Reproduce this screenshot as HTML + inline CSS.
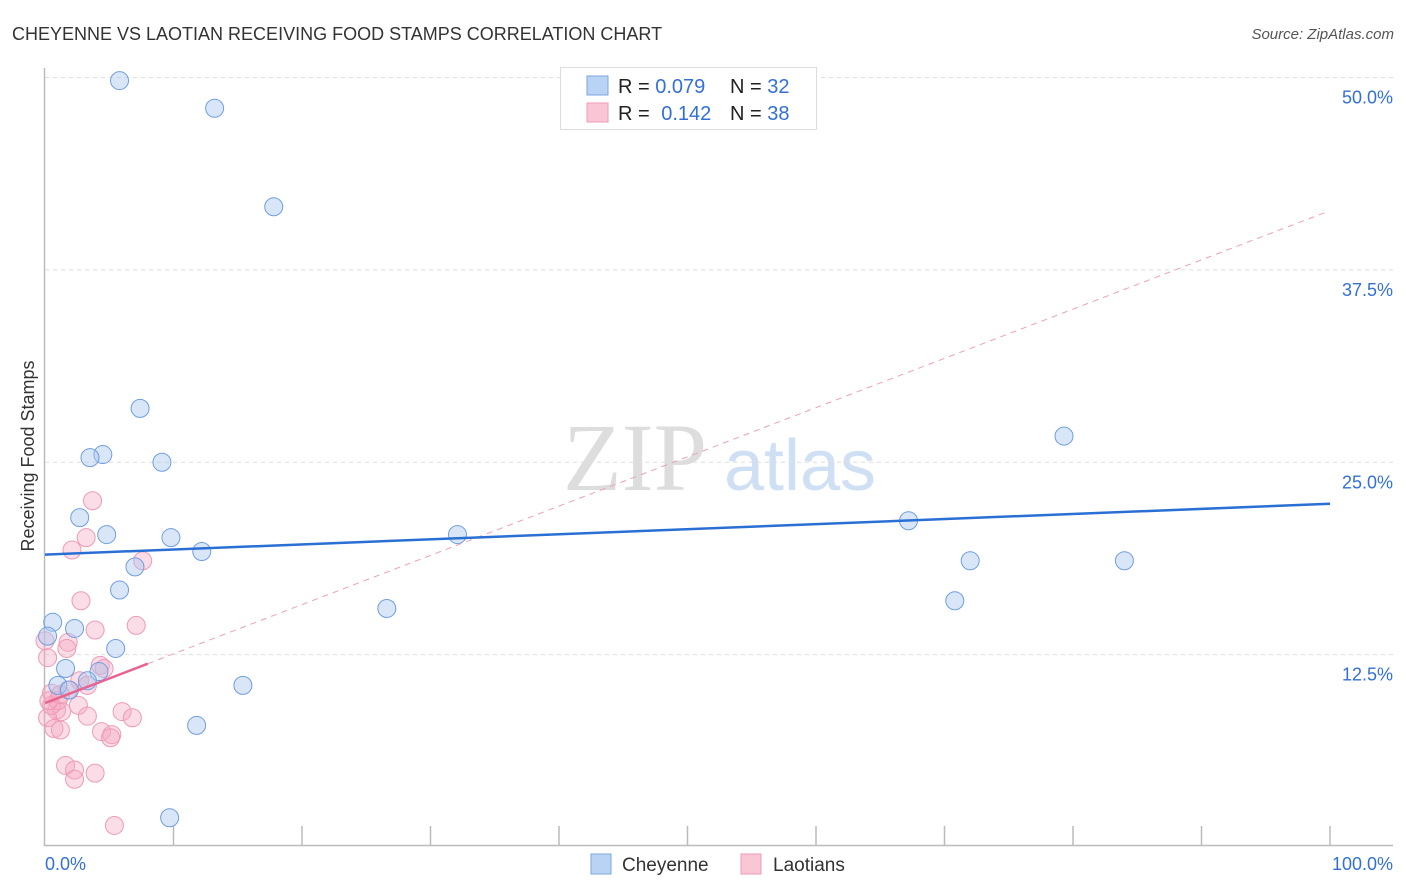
<!DOCTYPE html>
<html><head><meta charset="utf-8">
<style>
body{margin:0;background:#fff;font-family:"Liberation Sans",sans-serif;}
svg{display:block}
</style></head>
<body>
<svg id="chart" width="1406" height="892">
<text x="12" y="40" font-size="18" fill="#333">CHEYENNE VS LAOTIAN RECEIVING FOOD STAMPS CORRELATION CHART</text>
<text x="1394" y="39" font-size="15" fill="#555" font-style="italic" text-anchor="end">Source: ZipAtlas.com</text>
<text x="34" y="456" font-size="18" fill="#333" text-anchor="middle" transform="rotate(-90 34 456)">Receiving Food Stamps</text>
<g>
<text x="635" y="490" font-size="96" fill="#ddd" font-family="Liberation Serif,serif" text-anchor="middle">ZIP</text>
<text x="800" y="490" font-size="72" fill="#cfe0f5" text-anchor="middle">atlas</text>
</g>
<g id="grid"></g><g id="axes"></g><g id="marks"></g>
<g>
<rect x="560.5" y="67.5" width="256" height="62" fill="#fff" stroke="#ddd"/>
<rect x="587" y="76" width="21" height="19" fill="#b9d3f5" stroke="#7ea6e0"/>
<rect x="587" y="103" width="21" height="19" fill="#f9c6d6" stroke="#ee9ab5"/>
<text x="618" y="93" font-size="20" fill="#222">R = <tspan fill="#3370d6">0.079</tspan></text>
<text x="730" y="93" font-size="20" fill="#222">N = <tspan fill="#3370d6">32</tspan></text>
<text x="618" y="120" font-size="20" fill="#222">R = <tspan fill="#3370d6" dx="6">0.142</tspan></text>
<text x="730" y="120" font-size="20" fill="#222">N = <tspan fill="#3370d6">38</tspan></text>
</g>
<g>
<rect x="591" y="854" width="20" height="20" fill="#b9d3f5" stroke="#7ea6e0"/>
<text x="622" y="871" font-size="19" fill="#333">Cheyenne</text>
<rect x="741" y="854" width="20" height="20" fill="#f9c6d6" stroke="#ee9ab5"/>
<text x="773" y="871" font-size="19" fill="#333">Laotians</text>
</g>
</svg>
<script>
const yTicks=[12.5,25,37.5,50];
const yTickLabels=["12.5%","25.0%","37.5%","50.0%"];
const xTickCount=10;
const cheyenneX=[5.8,13.2,17.8,7.4,79.3,4.5,3.5,9.1,2.7,4.8,9.8,32.1,67.2,12.2,72.0,84.0,7.0,5.8,26.6,70.8,0.6,2.3,0.2,5.5,1.6,4.2,3.3,1.0,1.9,15.4,11.8,9.7];
const cheyenneY=[49.8,48.0,41.6,28.5,26.7,25.5,25.3,25.0,21.4,20.3,20.1,20.3,21.2,19.2,18.6,18.6,18.2,16.7,15.5,16.0,14.6,14.2,13.7,12.9,11.6,11.4,10.8,10.5,10.2,10.5,7.9,1.9];
const laoX=[3.7,2.1,3.2,7.6,2.8,3.9,7.1,1.8,1.7,0.2,4.3,4.6,2.7,3.3,1.8,0.5,2.6,0.9,1.3,0.2,3.3,6.0,6.8,0.7,1.2,4.4,5.2,5.1,1.6,2.3,3.9,2.3,5.4,0.5,1.0,0.3,1.2,0];
const laoY=[22.5,19.3,20.1,18.6,16.0,14.1,14.4,13.3,12.9,12.3,11.8,11.6,10.8,10.5,10.2,10.0,9.2,8.9,8.8,8.4,8.5,8.8,8.4,7.7,7.6,7.5,7.3,7.1,5.3,5.0,4.8,4.4,1.4,9.2,9.5,9.5,9.9,13.4];
const cheyenneTrend=[19.0,22.3];
const laoTrend=[9.35,0.32];

const X0=45,X1=1330,YB=847,YT=77.5;
const sx=v=>X0+(X1-X0)*v/100;
const sy=v=>YB-(YB-YT)*v/50;
const NS="http://www.w3.org/2000/svg";
function mk(tag,attrs,parent){const e=document.createElementNS(NS,tag);for(const k in attrs)e.setAttribute(k,attrs[k]);parent.appendChild(e);return e;}
const grid=document.getElementById('grid'),axes=document.getElementById('axes'),marks=document.getElementById('marks');
yTicks.forEach((t,i)=>{
  const g=mk('line',{x1:45,x2:1393,y1:sy(t),y2:sy(t),stroke:'#ddd','stroke-dasharray':'4,4'},grid);
  
  
  const l=mk('text',{x:1393,y:sy(t)+26,'font-size':18,fill:'#3370d6','text-anchor':'end'},grid);
  l.textContent=yTickLabels[i];
  
  
});
const ax=mk('path',{d:'M44.5 68V845.5H1393',fill:'none',stroke:'#bbb','stroke-width':1.5},axes);


for(let i=1;i<=xTickCount;i++){
  const t=mk('line',{x1:sx(i*10),x2:sx(i*10),y1:826,y2:845,stroke:'#bbb','stroke-width':1.5},axes);
  
  
}
const xl0=mk('text',{x:45,y:870,'font-size':18,fill:'#3370d6'},axes);xl0.textContent='0.0%';


const xl1=mk('text',{x:1393,y:870,'font-size':18,fill:'#3370d6','text-anchor':'end'},axes);xl1.textContent='100.0%';



laoX.forEach((x,i)=>{
  const c=mk('circle',{cx:sx(x),cy:sy(laoY[i]),r:9,fill:'rgba(246,170,195,0.4)',stroke:'#ef9ab6','stroke-width':1},marks);
  
  
});
cheyenneX.forEach((x,i)=>{
  const c=mk('circle',{cx:sx(x),cy:sy(cheyenneY[i]),r:9,fill:'rgba(170,200,240,0.45)',stroke:'#6f9ee0','stroke-width':1},marks);
  
  
});
const d=mk('line',{x1:sx(8),y1:sy(laoTrend[0]+laoTrend[1]*8),x2:sx(99.8),y2:sy(laoTrend[0]+laoTrend[1]*99.8),stroke:'#eba0b8','stroke-width':1,'stroke-dasharray':'6,5'},marks);


const p=mk('line',{x1:sx(0),y1:sy(laoTrend[0]),x2:sx(8),y2:sy(laoTrend[0]+laoTrend[1]*8),stroke:'#e8648f','stroke-width':2.5},marks);


const b=mk('line',{x1:sx(0),y1:sy(cheyenneTrend[0]),x2:sx(100),y2:sy(cheyenneTrend[1]),stroke:'#2a6fd4','stroke-width':2.5},marks);


</script>
</body></html>
